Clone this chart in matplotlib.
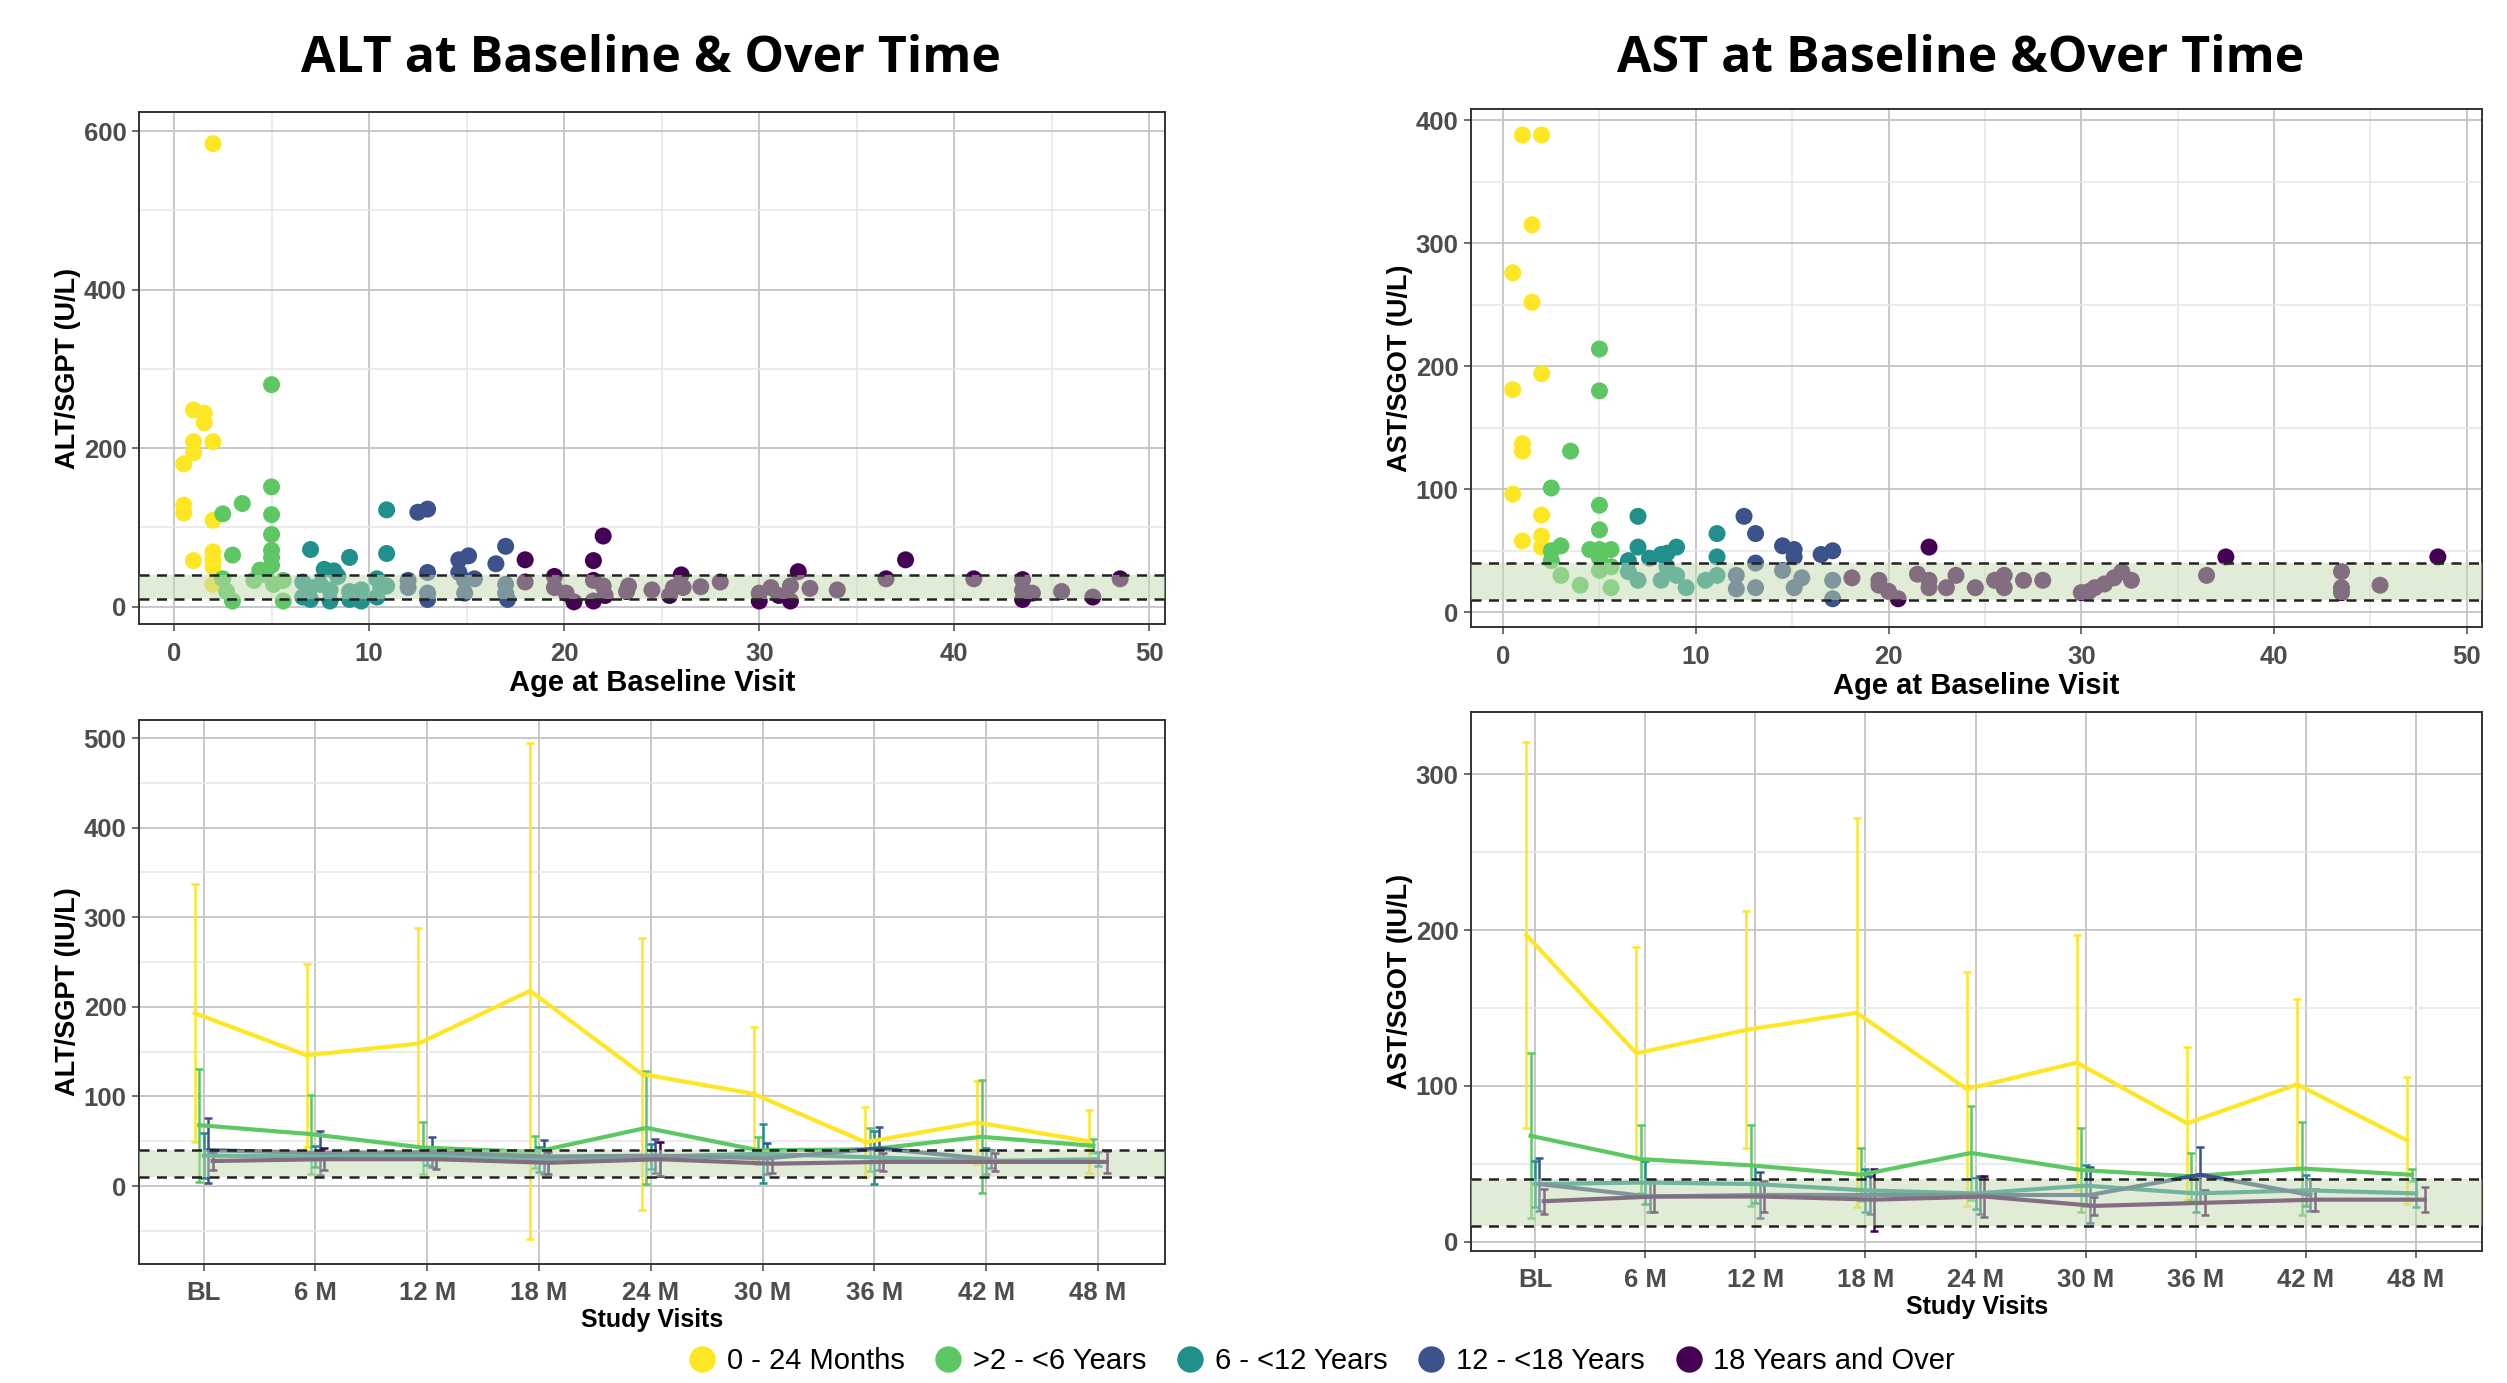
import numpy as np
import matplotlib.pyplot as plt
from matplotlib.lines import Line2D
from matplotlib.ticker import MultipleLocator

groups = ['0 - 24 Months', '>2 - <6 Years', '6 - <12 Years', '12 - <18 Years', '18 Years and Over']
colors = ['#FDE725', '#5DC863', '#21908C', '#3B528B', '#440154']

# ---- ALT at baseline (age, value) ----
alt_age_g1 = [2.0, 1.0, 1.55, 1.55, 1.0, 2.0, 1.0, 0.5, 0.5, 0.5, 2.0, 2.0, 2.0, 1.0, 2.0, 2.0]
alt_val_g1 = [584, 248, 244, 232, 208, 208, 194, 180, 128, 118, 109, 69, 59, 58, 50, 28]
alt_age_g2 = [5.0, 5.0, 3.5, 2.5, 5.0, 5.0, 3.0, 5.0, 5.0, 5.0, 4.4, 4.7, 4.1, 2.5, 2.7, 3.0, 5.6, 5.6, 5.1]
alt_val_g2 = [280, 151, 130, 117, 116, 91, 65, 71, 62, 52, 46, 40, 33, 35, 19, 7, 33, 7, 28]
alt_age_g3 = [10.9, 7.0, 10.9, 9.0, 7.7, 8.2, 8.4, 6.6, 7.0, 7.5, 8.0, 8.0, 7.0, 6.6, 9.0, 9.6, 9.6, 9.0,
              10.4, 10.6, 10.9, 10.4]
alt_val_g3 = [122, 72, 67, 62, 47, 45, 38, 31, 24, 28, 21, 7, 9, 12, 19, 21, 7, 9, 35, 24, 26, 12]
alt_age_g4 = [12.5, 13.0, 17.0, 15.1, 14.6, 16.5, 13.0, 14.6, 12.0, 12.0, 13.0, 13.0, 14.9, 15.4, 14.9,
              17.0, 17.1, 17.0]
alt_val_g4 = [119, 123, 76, 64, 59, 54, 43, 43, 33, 24, 17, 9, 33, 35, 17, 28, 9, 17]
alt_age_g5 = [22.0, 18.0, 21.5, 37.5, 32.0, 26.0, 36.5, 41.0, 48.5, 43.5, 18.0, 19.5, 19.5, 20.1, 20.5,
              21.5, 21.5, 22.0, 22.1, 23.2, 23.3, 24.5, 25.4, 25.6, 26.1, 27.0, 28.0, 30.0, 30.0, 30.6,
              31.0, 31.6, 31.6, 32.6, 34.0, 43.5, 43.5, 44.0, 45.5, 47.1]
alt_val_g5 = [89, 59, 58, 59, 44, 40, 35, 35, 35, 34, 31, 38, 24, 17, 6,
              7, 33, 26, 14, 19, 26, 21, 14, 24, 24, 25, 31, 17, 7, 24,
              14, 7, 26, 23, 21, 21, 9, 17, 19, 12]

# ---- AST at baseline (age, value) ----
ast_age_g1 = [1.0, 2.0, 1.5, 0.5, 1.5, 2.0, 0.5, 1.0, 1.0, 0.5, 2.0, 1.0, 2.0, 2.0]
ast_val_g1 = [388, 388, 315, 276, 252, 194, 181, 137, 131, 96, 79, 58, 62, 53]
ast_age_g2 = [5.0, 5.0, 3.5, 2.5, 5.0, 5.0, 3.0, 2.5, 2.5, 4.5, 5.0, 5.6, 5.0, 5.6, 3.0, 4.0, 5.6, 5.0]
ast_val_g2 = [214, 180, 131, 101, 87, 67, 54, 50, 42, 51, 51, 51, 44, 37, 30, 22, 20, 34]
ast_age_g3 = [7.0, 11.1, 7.0, 11.1, 9.0, 8.5, 8.2, 7.6, 6.5, 6.5, 7.0, 8.2, 9.0, 9.5, 10.5, 11.1, 8.5]
ast_val_g3 = [78, 64, 53, 45, 53, 48, 47, 44, 42, 33, 26, 26, 30, 20, 26, 30, 37]
ast_age_g4 = [12.5, 13.1, 14.5, 15.1, 15.1, 16.5, 17.1, 13.1, 12.1, 12.1, 13.1, 14.5, 15.5, 15.1, 17.1, 17.1]
ast_val_g4 = [78, 64, 54, 51, 45, 47, 50, 40, 30, 19, 20, 34, 28, 20, 26, 11]
ast_age_g5 = [22.1, 37.5, 48.5, 18.1, 19.5, 19.5, 20.0, 20.5, 21.5, 22.1, 22.1, 23.0, 23.5, 24.5, 25.5,
              26.0, 26.0, 27.0, 28.0, 30.0, 30.4, 30.7, 31.2, 31.7, 32.1, 32.6, 36.5, 43.5, 43.5, 43.5, 45.5]
ast_val_g5 = [53, 45, 45, 28, 26, 22, 17, 11, 31, 26, 20, 20, 30, 20, 26,
              30, 20, 26, 26, 16, 17, 20, 23, 28, 33, 26, 30, 33, 20, 16, 22]

# ---- over time: mean and SD per visit ----
visits = ['BL', '6 M', '12 M', '18 M', '24 M', '30 M', '36 M', '42 M', '48 M']

alt_mean_g1 = [193, 146, 159, 218, 125, 103, 49, 71, 50]
alt_sd_g1 = [144, 102, 129, 277, 152, 74, 39, 46, 35]
alt_mean_g2 = [68, 58, 43, 38, 65, 40, 41, 55, 45]
alt_sd_g2 = [63, 44, 29, 18, 63, 15, 24, 63, 8]
alt_mean_g3 = [34, 33, 34, 30, 33, 36, 32, 28, 30]
alt_sd_g3 = [25, 12, 10, 14, 14, 33, 30, 15, 8]
alt_mean_g4 = [40, 37, 38, 33, 34, 31, 42, 30, np.nan]
alt_sd_g4 = [36, 25, 17, 19, 19, 17, 24, 10, np.nan]
alt_mean_g5 = [28, 30, 30, 26, 30, 25, 27, 27, 27]
alt_sd_g5 = [10, 12, 11, 12, 19, 10, 10, 10, 12]

ast_mean_g1 = [197, 121, 136, 147, 98, 115, 76, 101, 65]
ast_sd_g1 = [124, 68, 76, 125, 75, 82, 49, 55, 41]
ast_mean_g2 = [68, 53, 49, 43, 57, 46, 42, 47, 43]
ast_sd_g2 = [53, 22, 26, 17, 30, 27, 15, 30, 4]
ast_mean_g3 = [37, 38, 37, 33, 31, 36, 31, 33, 31]
ast_sd_g3 = [15, 14, 12, 14, 10, 13, 12, 10, 9]
ast_mean_g4 = [37, 29, 30, 30, 30, 30, 43, 30, np.nan]
ast_sd_g4 = [17, 10, 15, 12, 12, 18, 18, 10, np.nan]
ast_mean_g5 = [26, 29, 29, 27, 29, 23, 25, 27, 27]
ast_sd_g5 = [8, 10, 10, 20, 13, 6, 8, 7, 8]

ref_low, ref_high = 10, 40

BOLD = ['Liberation Sans', 'DejaVu Sans']
TICK_COL = '#4d4d4d'


def style_axes(ax, ylabel, xlabel, xlab_size, xpad):
    ax.set_facecolor('white')
    for s in ax.spines.values():
        s.set_color('#333333')
        s.set_linewidth(1.4)
    ax.grid(True, which='major', color='#c4c4c4', linewidth=1.3, zorder=0)
    ax.grid(True, which='minor', color='#e6e6e6', linewidth=1.1, zorder=0)
    ax.set_axisbelow(True)
    ax.tick_params(which='major', length=5, width=1.2, color='#555555', labelcolor=TICK_COL,
                   labelsize=18.5, pad=4)
    ax.tick_params(which='minor', length=0)
    ax.tick_params(axis='x', pad=xpad)
    for lab in ax.get_xticklabels() + ax.get_yticklabels():
        lab.set_fontweight('bold')
        lab.set_family(BOLD)
    ax.set_ylabel(ylabel, fontsize=19.5, fontweight='bold', family=BOLD, labelpad=2)
    ax.set_xlabel(xlabel, fontsize=xlab_size, fontweight='bold', family=BOLD, labelpad=2)


def ref_band(ax, x0, x1):
    ax.fill_between([x0, x1], ref_low, ref_high, color='#c3dbaf', alpha=0.5, zorder=5, linewidth=0)
    for v in (ref_low, ref_high):
        ax.axhline(v, color='#222222', linestyle=(0, (4, 3)), linewidth=1.8, zorder=6)


def scatter_panel(ax, ages, vals, xlim, ylim, ymajor, ylabel):
    for a, v, c in zip(ages, vals, colors):
        ax.scatter(a, v, s=150, color=c, edgecolors='none', zorder=3)
    ref_band(ax, xlim[0], xlim[1])
    ax.set_xlim(*xlim)
    ax.set_ylim(*ylim)
    ax.xaxis.set_major_locator(MultipleLocator(10))
    ax.xaxis.set_minor_locator(MultipleLocator(5))
    ax.yaxis.set_major_locator(MultipleLocator(ymajor))
    ax.yaxis.set_minor_locator(MultipleLocator(ymajor / 2))
    style_axes(ax, ylabel, 'Age at Baseline Visit', 21, 8)


def time_panel(ax, means, sds, ylim, ylabel):
    x = np.arange(len(visits))
    offsets = [-0.08, -0.04, 0.0, 0.04, 0.08]
    for m, sd, c, off in zip(means, sds, colors, offsets):
        m = np.array(m, dtype=float)
        sd = np.array(sd, dtype=float)
        ax.errorbar(x + off, m, yerr=sd, color=c, linewidth=0, elinewidth=1.8, capsize=3,
                    capthick=1.8, zorder=3)
        ax.plot(x + off, m, color=c, linewidth=3.0, zorder=4)
    xlim = (-0.58, 8.6)
    ref_band(ax, xlim[0], xlim[1])
    ax.set_xlim(*xlim)
    ax.set_ylim(*ylim)
    ax.set_xticks(x)
    ax.set_xticklabels(visits)
    ax.yaxis.set_major_locator(MultipleLocator(100))
    ax.yaxis.set_minor_locator(MultipleLocator(50))
    style_axes(ax, ylabel, 'Study Visits', 18, 7)


fig = plt.figure(figsize=(25.07, 13.83), dpi=100)
fig.patch.set_facecolor('white')

ax1 = fig.add_axes([0.0554, 0.5488, 0.4093, 0.3702])
ax2 = fig.add_axes([0.5868, 0.5466, 0.4033, 0.3745])
ax3 = fig.add_axes([0.0554, 0.0860, 0.4093, 0.3933])
ax4 = fig.add_axes([0.5868, 0.0954, 0.4033, 0.3897])

scatter_panel(ax1,
              [alt_age_g1, alt_age_g2, alt_age_g3, alt_age_g4, alt_age_g5],
              [alt_val_g1, alt_val_g2, alt_val_g3, alt_val_g4, alt_val_g5],
              (-1.8, 50.8), (-22, 624), 200, 'ALT/SGPT (U/L)')
scatter_panel(ax2,
              [ast_age_g1, ast_age_g2, ast_age_g3, ast_age_g4, ast_age_g5],
              [ast_val_g1, ast_val_g2, ast_val_g3, ast_val_g4, ast_val_g5],
              (-1.66, 50.8), (-12, 409), 100, 'AST/SGOT (U/L)')
time_panel(ax3,
           [alt_mean_g1, alt_mean_g2, alt_mean_g3, alt_mean_g4, alt_mean_g5],
           [alt_sd_g1, alt_sd_g2, alt_sd_g3, alt_sd_g4, alt_sd_g5],
           (-87, 520), 'ALT/SGPT (IU/L)')
time_panel(ax4,
           [ast_mean_g1, ast_mean_g2, ast_mean_g3, ast_mean_g4, ast_mean_g5],
           [ast_sd_g1, ast_sd_g2, ast_sd_g3, ast_sd_g4, ast_sd_g5],
           (-6, 340), 'AST/SGOT (IU/L)')

TITLE_FONT = ['Open Sans', 'DejaVu Sans']
fig.text(651 / 2507, 1 - 59 / 1383, 'ALT at Baseline & Over Time', ha='center', va='center',
         fontsize=36, fontweight='bold', family=TITLE_FONT)
fig.text(1961 / 2507, 1 - 59 / 1383, 'AST at Baseline &Over Time', ha='center', va='center',
         fontsize=36, fontweight='bold', family=TITLE_FONT)

handles = [Line2D([], [], linestyle='none', marker='o', markersize=19, color=c, markeredgewidth=0)
           for c in colors]
fig.legend(handles, groups, loc='center', bbox_to_anchor=(0.527, 0.016), ncol=5, frameon=False,
           prop={'family': ['Liberation Sans', 'DejaVu Sans'], 'size': 21},
           handletextpad=0.35, columnspacing=1.0, handlelength=1.0)

fig.savefig('out.png', dpi=100, facecolor='white')
